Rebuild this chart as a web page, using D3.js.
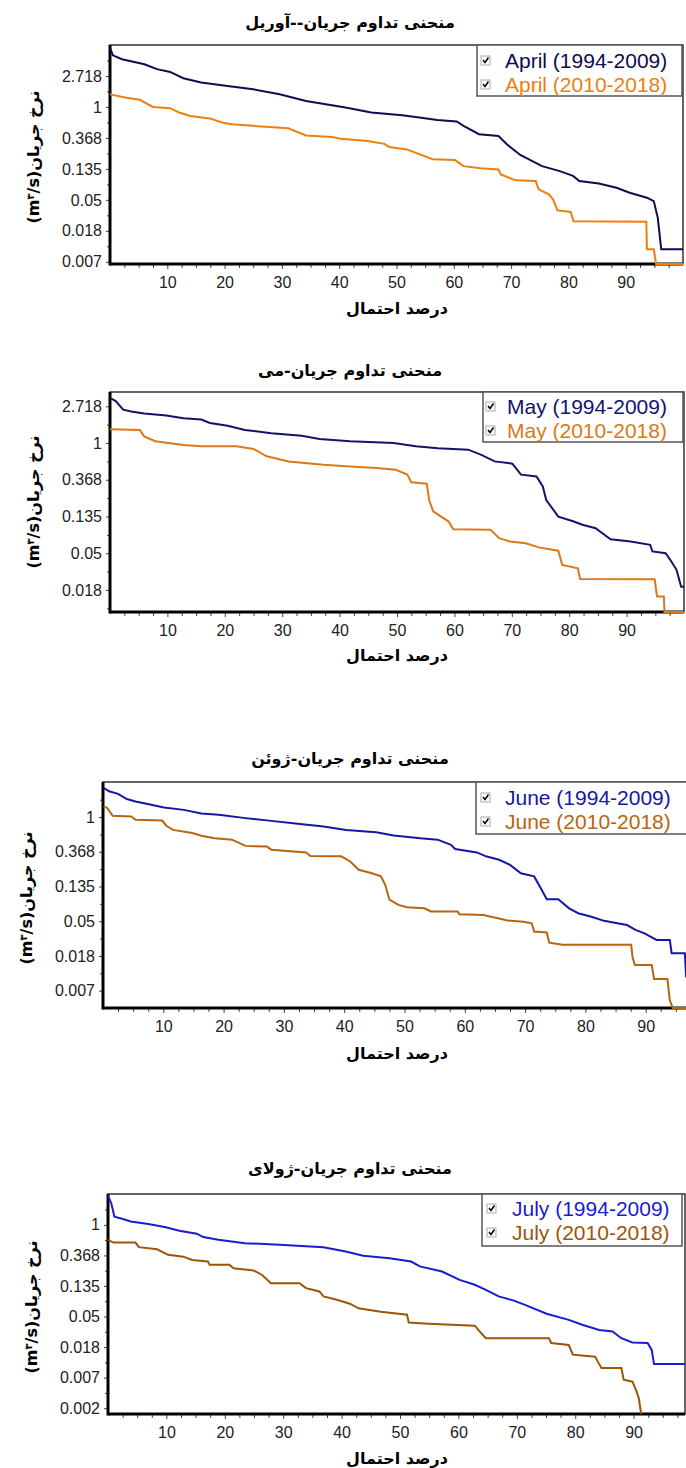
<!DOCTYPE html>
<html>
<head>
<meta charset="utf-8">
<script src="https://cdn.jsdelivr.net/npm/d3@7"></script>
<style>
  body { margin: 0; background: #fff; }
  svg { display: block; }
</style>
</head>
<body>
<div id="chart"></div>
<script>
// ---- data (exceedance % and flow m3/s) ----
var titles = ["منحنی تداوم جریان--آوریل", "منحنی تداوم جریان-می", "منحنی تداوم جریان-ژوئن", "منحنی تداوم جریان-ژولای"];
var legendOld = ["April (1994-2009)", "May (1994-2009)", "June (1994-2009)", "July (1994-2009)"];
var legendNew = ["April (2010-2018)", "May (2010-2018)", "June (2010-2018)", "July (2010-2018)"];
var xTitle = "درصد احتمال";
var xTicks = [10, 20, 30, 40, 50, 60, 70, 80, 90];
var yTickPowers = [1, 0, -1, -2, -3, -4, -5, -6];
var yTickLabels = ["2.718", "1", "0.368", "0.135", "0.05", "0.018", "0.007", "0.002"];

var aprP1 = [0, 0.5, 2.1, 6.0, 8.2, 10.5, 12.8, 15.9, 20.5, 25.0, 29.6, 34.2, 41.1, 45.6, 51.0, 54.0, 57.1, 60.5, 61.7, 64.4, 67.8, 69.3, 71.6, 75.4, 78.5, 80.8, 81.9, 85.3, 88.4, 90.7, 93.7, 94.9, 95.6, 96.2, 100];
var aprQ1 = [6.8, 5.3, 4.66, 3.97, 3.39, 3.10, 2.53, 2.20, 1.97, 1.77, 1.51, 1.21, 0.98, 0.835, 0.763, 0.712, 0.657, 0.625, 0.543, 0.415, 0.391, 0.298, 0.212, 0.148, 0.126, 0.108, 0.0916, 0.0846, 0.0735, 0.0627, 0.0534, 0.0478, 0.0279, 0.0101, 0.0101];
var aprP2 = [0, 2.9, 5.2, 7.5, 10.5, 12.1, 14.0, 17.4, 19.7, 21.2, 25.0, 31.1, 34.2, 38.8, 40.3, 44.9, 47.9, 48.7, 51.8, 56.3, 60.2, 61.7, 64.7, 67.8, 68.2, 70.8, 74.3, 74.8, 76.6, 77.3, 78.1, 80.4, 80.9, 93.6, 93.7, 94.9, 95.3, 100];
var aprQ2 = [1.5, 1.35, 1.26, 1.0, 0.96, 0.835, 0.748, 0.691, 0.600, 0.571, 0.543, 0.502, 0.399, 0.379, 0.357, 0.333, 0.304, 0.275, 0.254, 0.185, 0.181, 0.148, 0.138, 0.133, 0.113, 0.0935, 0.0916, 0.0699, 0.0596, 0.0508, 0.0354, 0.0337, 0.0250, 0.0245, 0.0101, 0.0101, 0.0001, 0.0001];

var mayP1 = [0, 1.0, 2.3, 3.7, 5.95, 9.8, 12.8, 15.9, 17.4, 20.5, 23.5, 28.1, 33.4, 36.5, 41.8, 49.4, 53.3, 57.1, 62.4, 64.7, 67.0, 70.1, 71.6, 74.3, 75.4, 76.0, 78.1, 80.8, 82.3, 84.6, 87.2, 90.7, 94.1, 94.5, 96.8, 97.6, 98.7, 99.5, 100];
var mayQ1 = [3.42, 3.13, 2.48, 2.36, 2.23, 2.12, 1.97, 1.90, 1.73, 1.60, 1.43, 1.31, 1.22, 1.12, 1.05, 1.0, 0.914, 0.869, 0.835, 0.726, 0.607, 0.571, 0.423, 0.403, 0.307, 0.212, 0.135, 0.118, 0.108, 0.0983, 0.0728, 0.0686, 0.0627, 0.0523, 0.0498, 0.0416, 0.0317, 0.020, 0.020];
var mayP2 = [0, 5.2, 5.95, 7.9, 12.8, 15.9, 22.0, 25.0, 27.3, 31.1, 37.2, 41.8, 46.4, 49.8, 51.8, 52.5, 55.2, 55.6, 56.3, 59.0, 59.8, 66.3, 67.8, 69.7, 72.4, 74.7, 78.1, 78.8, 81.5, 81.9, 94.9, 95.3, 96.5, 96.6, 100];
var mayQ2 = [1.46, 1.43, 1.20, 1.05, 0.951, 0.914, 0.914, 0.852, 0.698, 0.607, 0.554, 0.527, 0.507, 0.482, 0.423, 0.343, 0.330, 0.212, 0.156, 0.118, 0.0954, 0.0944, 0.0750, 0.0686, 0.0652, 0.0584, 0.0534, 0.0362, 0.0331, 0.0247, 0.0245, 0.0153, 0.0153, 0.0001, 0.0001];

var junP1 = [0.1, 1.0, 2.5, 3.95, 5.4, 7.6, 10.1, 13.4, 16.3, 19.2, 23.6, 27.9, 32.3, 36.6, 40.3, 45.3, 48.2, 52.6, 55.5, 57.7, 58.4, 62.0, 63.5, 65.7, 67.5, 69.3, 71.5, 72.6, 73.6, 75.5, 77.3, 78.8, 81.0, 83.1, 85.3, 86.9, 88.3, 89.8, 91.8, 94.0, 94.3, 96.5, 96.7, 100];
var junQ1 = [2.32, 2.10, 1.95, 1.68, 1.57, 1.45, 1.32, 1.23, 1.105, 1.07, 0.970, 0.896, 0.827, 0.763, 0.691, 0.644, 0.589, 0.543, 0.522, 0.449, 0.399, 0.361, 0.323, 0.292, 0.252, 0.198, 0.181, 0.129, 0.0935, 0.0935, 0.0721, 0.0627, 0.0567, 0.0503, 0.0469, 0.0446, 0.0388, 0.0351, 0.0290, 0.0290, 0.0198, 0.0198, 0.0101, 0.0101];
var junP2 = [0.1, 0.7, 1.6, 4.7, 5.4, 9.8, 10.5, 11.6, 14.8, 16.3, 18.5, 21.4, 23.6, 27.2, 27.9, 33.7, 34.4, 39.5, 41.0, 42.4, 44.6, 46.1, 46.8, 47.5, 49.0, 50.4, 53.3, 54.4, 58.8, 59.1, 63.1, 67.1, 69.7, 71.1, 71.5, 73.6, 74.0, 76.2, 87.6, 87.8, 88.2, 91.0, 91.4, 93.6, 94.0, 94.5, 100];
var junQ2 = [1.36, 1.30, 1.04, 1.02, 0.923, 0.905, 0.779, 0.691, 0.631, 0.583, 0.543, 0.522, 0.436, 0.427, 0.391, 0.361, 0.326, 0.323, 0.278, 0.219, 0.198, 0.181, 0.142, 0.0926, 0.0797, 0.0743, 0.0721, 0.0659, 0.0659, 0.0608, 0.0596, 0.0508, 0.0490, 0.0469, 0.0369, 0.0360, 0.0268, 0.0252, 0.0252, 0.0180, 0.0141, 0.0141, 0.0094, 0.0094, 0.0051, 0.0001, 0.0001];

var julP1 = [0, 0.56, 1.1, 2.4, 3.9, 6.9, 9.9, 12.2, 15.2, 16.3, 18.9, 23.4, 29.4, 36.9, 40.7, 43.7, 48.2, 51.9, 53.4, 57.2, 60.2, 62.8, 64.7, 66.9, 69.5, 71.4, 75.1, 78.9, 81.2, 84.1, 86.4, 87.9, 89.8, 92.4, 93.1, 93.5, 98.8];
var julQ1 = [2.6, 2.03, 1.31, 1.22, 1.12, 1.03, 0.923, 0.827, 0.748, 0.670, 0.613, 0.549, 0.522, 0.482, 0.419, 0.364, 0.336, 0.301, 0.257, 0.217, 0.165, 0.141, 0.119, 0.0963, 0.0837, 0.0728, 0.0545, 0.0446, 0.0380, 0.0321, 0.0305, 0.0245, 0.0213, 0.0209, 0.0167, 0.0105, 0.0105];
var julP2 = [0, 0.94, 4.7, 5.3, 8.4, 10.3, 12.9, 14.4, 17.1, 17.4, 20.8, 21.5, 24.9, 26.4, 27.9, 32.8, 33.9, 36.2, 36.9, 39.2, 41.4, 42.9, 46.7, 51.2, 51.5, 54.9, 62.8, 63.9, 64.7, 75.5, 75.9, 78.9, 79.6, 83.4, 84.5, 87.9, 88.3, 89.8, 90.5, 90.9, 91.3];
var julQ2 = [0.613, 0.560, 0.560, 0.482, 0.449, 0.375, 0.353, 0.317, 0.301, 0.270, 0.270, 0.242, 0.225, 0.194, 0.148, 0.148, 0.126, 0.113, 0.0963, 0.0863, 0.0758, 0.0652, 0.0584, 0.0529, 0.0408, 0.0392, 0.0369, 0.0290, 0.0245, 0.0245, 0.0209, 0.0196, 0.0143, 0.0134, 0.0092, 0.0092, 0.0063, 0.0059, 0.0043, 0.0034, 0.0001];

var blues = ["#0d0d4f", "#13136e", "#1616a6", "#1b1bd0"];
var oranges = ["#f07e0c", "#d97a16", "#b8650e", "#9c5509"];

// ---- layout for each panel ----
var panels = [
    { left: 110, right: 683, top: 45, bottom: 264, xMax: 100, lnTop: 2.0, lnBot: -5.07, tk: [0, 6],
      p1: aprP1, q1: aprQ1, p2: aprP2, q2: aprQ2, titleY: 22, xTitleY: 308, yLabX: 33, yLabY: 157,
      leg: { x: 477, y: 45, w: 205, h: 51, r1: 61, r2: 85, tx: 505, cb: 481 } },
    { left: 110, right: 684, top: 392, bottom: 612, xMax: 100, lnTop: 1.39, lnBot: -4.6, tk: [0, 5],
      p1: mayP1, q1: mayQ1, p2: mayP2, q2: mayQ2, titleY: 370, xTitleY: 655, yLabX: 33, yLabY: 502,
      leg: { x: 483, y: 392, w: 200, h: 50, r1: 407, r2: 431, tx: 507, cb: 486 } },
    { left: 103, right: 706, top: 782, bottom: 1008, xMax: 100, lnTop: 1.01, lnBot: -5.5, tk: [1, 6],
      p1: junP1, q1: junQ1, p2: junP2, q2: junQ2, titleY: 758, xTitleY: 1053, yLabX: 26, yLabY: 898,
      leg: { x: 476, y: 782, w: 240, h: 52, r1: 798, r2: 822, tx: 505, cb: 481 } },
    { left: 108, right: 685, top: 1194, bottom: 1414, xMax: 98.8, lnTop: 1.01, lnBot: -6.19, tk: [1, 7],
      p1: julP1, q1: julQ1, p2: julP2, q2: julQ2, titleY: 1168, xTitleY: 1458, yLabX: 31, yLabY: 1307,
      leg: { x: 482, y: 1194, w: 200, h: 52, r1: 1209, r2: 1233, tx: 512, cb: 487 } }
];

var svg = d3.select('#chart')
    .append('svg')
    .attr('width', 686)
    .attr('height', 1468);

svg.append('rect').attr('width', 686).attr('height', 1468).attr('fill', '#fff');

var tickFont = "'Liberation Sans', Arial, sans-serif";
var faFont = "'DejaVu Sans', sans-serif";

panels.forEach(function(c, k) {
    var g = svg.append('g');

    var x = d3.scaleLinear().domain([0, c.xMax]).range([c.left, c.right]);
    var y = d3.scaleLog().base(Math.E)
        .domain([Math.exp(c.lnBot), Math.exp(c.lnTop)])
        .range([c.bottom, c.top])
        .clamp(true);

    // title
    g.append('text')
        .attr('x', 350).attr('y', c.titleY)
        .attr('dy', '0.35em')
        .attr('text-anchor', 'middle')
        .attr('direction', 'rtl')
        .style('font-family', faFont)
        .style('font-size', '16px')
        .style('font-weight', 'bold')
        .text(titles[k]);

    // frame
    g.append('rect')
        .attr('x', c.left).attr('y', c.top)
        .attr('width', c.right - c.left).attr('height', c.bottom - c.top)
        .attr('fill', 'none').attr('stroke', '#333').attr('stroke-width', 1.5);

    // y axis
    var yVals = [], yLabs = [];
    for (var i = c.tk[0]; i <= c.tk[1]; i++) {
        yVals.push(Math.exp(yTickPowers[i]));
        yLabs.push(yTickLabels[i]);
    }
    var yAxis = d3.axisLeft(y).tickValues(yVals).tickSize(4).tickPadding(4)
        .tickFormat(function(d, i) { return yLabs[i]; });
    var ya = g.append('g').attr('transform', 'translate(' + c.left + ',0)').call(yAxis);
    var minorY = yVals.map(function(v) { return v * Math.exp(-0.5); })
        .concat([yVals[0] * Math.exp(0.5)])
        .filter(function(v) { var l = Math.log(v); return l > c.lnBot && l < c.lnTop; });
    var yb = g.append('g').attr('transform', 'translate(' + c.left + ',0)')
        .call(d3.axisLeft(y).tickValues(minorY).tickSize(3).tickFormat(''));

    // x axis
    var xAxis = d3.axisBottom(x).tickValues(xTicks).tickSize(5).tickPadding(8).tickFormat(d3.format('d'));
    var xa = g.append('g').attr('transform', 'translate(0,' + c.bottom + ')').call(xAxis);
    var minorX = d3.range(2.5, c.xMax, 2.5).filter(function(v) { return v % 10 !== 0; });
    var xb = g.append('g').attr('transform', 'translate(0,' + c.bottom + ')')
        .call(d3.axisBottom(x).tickValues(minorX).tickSize(4).tickFormat(''));

    [ya, yb, xa, xb].forEach(function(a) {
        a.select('.domain').remove();
        a.selectAll('line').attr('stroke', '#444');
        a.selectAll('text')
            .attr('fill', '#222')
            .style('font-family', tickFont)
            .style('font-size', '16px');
    });

    // thick left and bottom axis lines
    g.append('line').attr('x1', c.left).attr('x2', c.left).attr('y1', c.top).attr('y2', c.bottom + 1.5)
        .attr('stroke', '#000').attr('stroke-width', 3);
    g.append('line').attr('x1', c.left).attr('x2', c.right).attr('y1', c.bottom).attr('y2', c.bottom)
        .attr('stroke', '#000').attr('stroke-width', 3);

    // axis titles
    g.append('text')
        .attr('x', 397).attr('y', c.xTitleY)
        .attr('dy', '0.35em')
        .attr('text-anchor', 'middle')
        .attr('direction', 'rtl')
        .style('font-family', faFont)
        .style('font-size', '16px')
        .style('font-weight', 'bold')
        .text(xTitle);

    var yl = g.append('text')
        .attr('transform', 'translate(' + c.yLabX + ',' + c.yLabY + ') rotate(-90)')
        .attr('dy', '0.35em')
        .attr('text-anchor', 'middle')
        .attr('direction', 'rtl')
        .style('font-family', faFont)
        .style('font-size', '16px')
        .style('font-weight', 'bold');
    yl.append('tspan').text('نرخ جریان(m');
    yl.append('tspan').attr('baseline-shift', 'super').style('font-size', '10px').text('۳');
    yl.append('tspan').text('/s)');

    // curves
    var line = d3.line()
        .x(function(d) { return x(d[0]); })
        .y(function(d) { return y(d[1]); });

    var s1 = c.p1.map(function(p, i) { return [p, c.q1[i]]; });
    var s2 = c.p2.map(function(p, i) { return [p, c.q2[i]]; });

    g.append('path').datum(s2)
        .attr('d', line)
        .attr('fill', 'none').attr('stroke', oranges[k]).attr('stroke-width', 2);
    g.append('path').datum(s1)
        .attr('d', line)
        .attr('fill', 'none').attr('stroke', blues[k]).attr('stroke-width', 2);

    // legend
    var L = c.leg;
    g.append('rect')
        .attr('x', L.x).attr('y', L.y).attr('width', L.w).attr('height', L.h)
        .attr('fill', '#fff').attr('stroke', '#555').attr('stroke-width', 1.5);
    [[L.r1, legendOld[k], blues[k]], [L.r2, legendNew[k], oranges[k]]].forEach(function(r) {
        g.append('rect')
            .attr('x', L.cb).attr('y', r[0] - 5).attr('width', 9).attr('height', 9)
            .attr('fill', '#fff').attr('stroke', '#aaa').attr('stroke-width', 1);
        g.append('path')
            .attr('d', 'M' + (L.cb + 2) + ',' + (r[0] - 1) + 'l2,2.5l3.5,-5')
            .attr('fill', 'none').attr('stroke', '#000').attr('stroke-width', 1.5);
        g.append('text')
            .attr('x', L.tx).attr('y', r[0])
            .attr('dy', '0.35em')
            .attr('fill', r[2])
            .style('font-family', tickFont)
            .style('font-size', '21px')
            .text(r[1]);
    });
});
</script>
</body>
</html>
